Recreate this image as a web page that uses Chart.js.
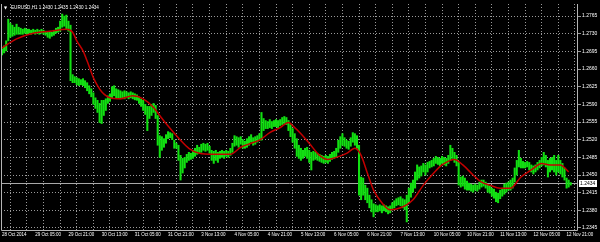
<!DOCTYPE html>
<html>
<head>
<meta charset="utf-8">
<script src="https://cdn.jsdelivr.net/npm/chart.js@4.4.0/dist/chart.umd.min.js"></script>
<style>
  html, body { margin: 0; padding: 0; background: #000; }
</style>
</head>
<body>
<canvas id="myChart" width="600" height="242"></canvas>
<script>
// chart header: symbol and last bar open/high/low/close
const symbolName = 'EURUSD,H1';
const lastBar = [1.2430, 1.2435, 1.2430, 1.2434];

// one label every 16 hourly bars
const xLabels = ['28 Oct 2014', '29 Oct 05:00', '29 Oct 21:00', '30 Oct 13:00', '31 Oct 05:00', '31 Oct 21:00',
  '3 Nov 13:00', '4 Nov 05:00', '4 Nov 21:00', '5 Nov 13:00', '6 Nov 05:00', '6 Nov 21:00',
  '7 Nov 13:00', '10 Nov 05:00', '10 Nov 21:00', '11 Nov 13:00', '12 Nov 05:00', '12 Nov 21:00'];

const yTicks = [1.2765, 1.2730, 1.2695, 1.2660, 1.2625, 1.2590, 1.2555, 1.2520, 1.2485, 1.2450, 1.2415, 1.2380, 1.2345];

// hourly bar highs and lows (bar 0 = 28 Oct 13:00)
const highs = [
  1.2700, 1.2706, 1.2716, 1.2759, 1.2751, 1.2747, 1.2743, 1.2749, 1.2743, 1.2741,
  1.2739, 1.2741, 1.2739, 1.2739, 1.2737, 1.2739, 1.2737, 1.2739, 1.2737, 1.2739,
  1.2737, 1.2735, 1.2733, 1.2735, 1.2733, 1.2737, 1.2741, 1.2743, 1.2755, 1.2769,
  1.2765, 1.2767, 1.2755, 1.2747, 1.2649, 1.2645, 1.2643, 1.2641, 1.2639, 1.2641,
  1.2637, 1.2633, 1.2627, 1.2621, 1.2613, 1.2603, 1.2598, 1.2592, 1.2598, 1.2598,
  1.2601, 1.2607, 1.2611, 1.2625, 1.2627, 1.2621, 1.2619, 1.2617, 1.2615, 1.2617,
  1.2615, 1.2613, 1.2615, 1.2613, 1.2611, 1.2609, 1.2605, 1.2601, 1.2598, 1.2590,
  1.2586, 1.2586, 1.2590, 1.2592, 1.2588, 1.2568, 1.2528, 1.2526, 1.2522, 1.2530,
  1.2536, 1.2534, 1.2532, 1.2519, 1.2513, 1.2509, 1.2489, 1.2483, 1.2485, 1.2491,
  1.2495, 1.2493, 1.2499, 1.2503, 1.2509, 1.2505, 1.2511, 1.2513, 1.2511, 1.2513,
  1.2507, 1.2499, 1.2497, 1.2499, 1.2495, 1.2497, 1.2499, 1.2497, 1.2499, 1.2497,
  1.2503, 1.2513, 1.2528, 1.2526, 1.2524, 1.2526, 1.2520, 1.2517, 1.2522, 1.2526,
  1.2530, 1.2524, 1.2526, 1.2528, 1.2532, 1.2574, 1.2562, 1.2558, 1.2556, 1.2560,
  1.2556, 1.2558, 1.2560, 1.2558, 1.2560, 1.2564, 1.2566, 1.2564, 1.2558, 1.2550,
  1.2542, 1.2532, 1.2522, 1.2509, 1.2503, 1.2499, 1.2503, 1.2505, 1.2499, 1.2495,
  1.2497, 1.2495, 1.2493, 1.2491, 1.2489, 1.2487, 1.2489, 1.2487, 1.2491, 1.2495,
  1.2497, 1.2503, 1.2519, 1.2526, 1.2532, 1.2524, 1.2519, 1.2517, 1.2524, 1.2534,
  1.2532, 1.2528, 1.2509, 1.2446, 1.2444, 1.2430, 1.2424, 1.2410, 1.2401, 1.2393,
  1.2391, 1.2389, 1.2391, 1.2389, 1.2391, 1.2389, 1.2387, 1.2389, 1.2395, 1.2399,
  1.2403, 1.2405, 1.2407, 1.2403, 1.2401, 1.2410, 1.2424, 1.2434, 1.2440, 1.2456,
  1.2470, 1.2466, 1.2468, 1.2473, 1.2470, 1.2475, 1.2477, 1.2479, 1.2483, 1.2487,
  1.2485, 1.2483, 1.2487, 1.2485, 1.2483, 1.2489, 1.2509, 1.2503, 1.2495, 1.2489,
  1.2475, 1.2446, 1.2448, 1.2444, 1.2438, 1.2434, 1.2432, 1.2430, 1.2432, 1.2430,
  1.2436, 1.2440, 1.2440, 1.2436, 1.2430, 1.2428, 1.2424, 1.2422, 1.2416, 1.2414,
  1.2420, 1.2424, 1.2432, 1.2434, 1.2436, 1.2440, 1.2444, 1.2464, 1.2479, 1.2499,
  1.2483, 1.2477, 1.2475, 1.2477, 1.2475, 1.2470, 1.2468, 1.2470, 1.2475, 1.2479,
  1.2485, 1.2495, 1.2489, 1.2479, 1.2483, 1.2485, 1.2489, 1.2479, 1.2489, 1.2479,
  1.2473, 1.2464, 1.2444, 1.2440, 1.2435
];
const lows = [
  1.2688, 1.2692, 1.2696, 1.2716, 1.2723, 1.2725, 1.2727, 1.2729, 1.2729, 1.2729,
  1.2729, 1.2731, 1.2729, 1.2731, 1.2729, 1.2731, 1.2729, 1.2731, 1.2729, 1.2731,
  1.2729, 1.2727, 1.2723, 1.2721, 1.2725, 1.2727, 1.2731, 1.2733, 1.2735, 1.2743,
  1.2745, 1.2739, 1.2735, 1.2637, 1.2633, 1.2633, 1.2629, 1.2627, 1.2629, 1.2627,
  1.2623, 1.2617, 1.2611, 1.2605, 1.2590, 1.2582, 1.2574, 1.2554, 1.2552, 1.2568,
  1.2578, 1.2592, 1.2596, 1.2603, 1.2607, 1.2603, 1.2603, 1.2601, 1.2603, 1.2601,
  1.2603, 1.2601, 1.2603, 1.2601, 1.2599, 1.2598, 1.2592, 1.2586, 1.2578, 1.2570,
  1.2538, 1.2562, 1.2568, 1.2574, 1.2562, 1.2509, 1.2485, 1.2499, 1.2505, 1.2513,
  1.2522, 1.2524, 1.2520, 1.2503, 1.2503, 1.2479, 1.2440, 1.2454, 1.2464, 1.2475,
  1.2479, 1.2481, 1.2483, 1.2487, 1.2491, 1.2493, 1.2495, 1.2499, 1.2497, 1.2499,
  1.2493, 1.2479, 1.2473, 1.2479, 1.2475, 1.2483, 1.2485, 1.2483, 1.2487, 1.2485,
  1.2489, 1.2495, 1.2507, 1.2509, 1.2505, 1.2511, 1.2503, 1.2503, 1.2505, 1.2509,
  1.2515, 1.2509, 1.2511, 1.2515, 1.2519, 1.2519, 1.2538, 1.2542, 1.2542, 1.2544,
  1.2542, 1.2546, 1.2546, 1.2544, 1.2548, 1.2550, 1.2552, 1.2550, 1.2538, 1.2526,
  1.2515, 1.2503, 1.2487, 1.2483, 1.2479, 1.2483, 1.2487, 1.2483, 1.2475, 1.2460,
  1.2479, 1.2481, 1.2479, 1.2477, 1.2475, 1.2473, 1.2475, 1.2473, 1.2477, 1.2481,
  1.2483, 1.2485, 1.2495, 1.2503, 1.2509, 1.2507, 1.2503, 1.2501, 1.2507, 1.2515,
  1.2509, 1.2503, 1.2410, 1.2401, 1.2410, 1.2401, 1.2395, 1.2385, 1.2377, 1.2367,
  1.2377, 1.2377, 1.2379, 1.2375, 1.2379, 1.2377, 1.2373, 1.2375, 1.2381, 1.2385,
  1.2389, 1.2391, 1.2389, 1.2385, 1.2381, 1.2357, 1.2397, 1.2406, 1.2416, 1.2424,
  1.2440, 1.2444, 1.2448, 1.2456, 1.2450, 1.2456, 1.2464, 1.2466, 1.2468, 1.2473,
  1.2471, 1.2468, 1.2473, 1.2470, 1.2468, 1.2473, 1.2479, 1.2483, 1.2475, 1.2468,
  1.2430, 1.2426, 1.2428, 1.2422, 1.2420, 1.2420, 1.2418, 1.2416, 1.2420, 1.2418,
  1.2422, 1.2426, 1.2428, 1.2424, 1.2416, 1.2414, 1.2408, 1.2404, 1.2397, 1.2395,
  1.2403, 1.2408, 1.2412, 1.2416, 1.2420, 1.2420, 1.2424, 1.2436, 1.2450, 1.2466,
  1.2464, 1.2464, 1.2464, 1.2466, 1.2460, 1.2456, 1.2452, 1.2456, 1.2460, 1.2464,
  1.2468, 1.2470, 1.2466, 1.2446, 1.2456, 1.2460, 1.2456, 1.2450, 1.2456, 1.2452,
  1.2446, 1.2440, 1.2424, 1.2426, 1.2430
];

// moving average (red), read at these bar numbers
const maBars = [0, 7, 15, 23, 31, 34, 36, 39, 41, 44, 46, 48, 52, 57, 63, 68, 73, 76, 79, 86,
  90, 95, 102, 110, 115, 120, 124, 129, 134, 138, 141, 144, 148, 153, 157, 161, 166, 170, 173, 176,
  179, 183, 187, 192, 198, 203, 208, 212, 218, 222, 227, 231, 235, 240, 245, 250, 255, 260, 264, 269, 273];
const maValues = [1.2702, 1.2720, 1.2731, 1.2735, 1.2739, 1.2733, 1.2716, 1.2696, 1.2676, 1.2643,
  1.2627, 1.2615, 1.2603, 1.2601, 1.2607, 1.2601, 1.2584, 1.2568, 1.2552, 1.2519,
  1.2503, 1.2493, 1.2491, 1.2491, 1.2505, 1.2513, 1.2519, 1.2534, 1.2544, 1.2554,
  1.2544, 1.2532, 1.2513, 1.2489, 1.2481, 1.2485, 1.2493, 1.2503, 1.2489, 1.2454,
  1.2420, 1.2395, 1.2381, 1.2385, 1.2401, 1.2430, 1.2454, 1.2470, 1.2481, 1.2470,
  1.2450, 1.2436, 1.2430, 1.2424, 1.2424, 1.2446, 1.2460, 1.2473, 1.2470, 1.2470, 1.2456];

const gridColor = '#9a9a9a';
const textColor = '#ffffff';

Chart.defaults.font.family = "'Liberation Sans', Arial, 'DejaVu Sans', sans-serif";

// background, bid line, frame, header and price tag
const mt4Plugin = {
    id: 'mt4',
    beforeDraw: function(chart) {
        const c = chart.ctx;
        c.save();
        c.fillStyle = '#000';
        c.fillRect(0, 0, chart.width, chart.height);
        c.restore();
    },
    beforeDatasetsDraw: function(chart) {
        const c = chart.ctx;
        const a = chart.chartArea;
        const y = Math.round(chart.scales.y.getPixelForValue(lastBar[3])) + 0.5;
        c.save();
        c.strokeStyle = '#a8a8a8';
        c.lineWidth = 1;
        c.beginPath();
        c.moveTo(a.left, y);
        c.lineTo(a.right, y);
        c.stroke();
        c.restore();
    },
    afterDraw: function(chart) {
        const c = chart.ctx;
        const a = chart.chartArea;
        c.save();
        // frame: left, bottom, right (no top line)
        c.strokeStyle = '#b4b4b4';
        c.lineWidth = 1;
        c.beginPath();
        c.moveTo(a.left + 0.5, a.top);
        c.lineTo(a.left + 0.5, a.bottom + 0.5);
        c.lineTo(a.right - 0.5, a.bottom + 0.5);
        c.lineTo(a.right - 0.5, a.top);
        c.stroke();

        c.fillStyle = textColor;
        c.textBaseline = 'middle';
        c.font = "4px 'DejaVu Sans', sans-serif";
        c.fillText('\u25BC', a.left + 3, a.top + 4);
        c.font = "4.6px 'Liberation Sans', Arial, sans-serif";
        c.fillText(symbolName + ' ' + lastBar.map(v => v.toFixed(4)).join(' '), a.left + 10, a.top + 4);

        const y = Math.round(chart.scales.y.getPixelForValue(lastBar[3]));
        c.fillStyle = '#ffffff';
        c.fillRect(a.right + 1, y - 3, 18, 7);
        c.fillStyle = '#000';
        c.font = "5px 'Liberation Sans', Arial, sans-serif";
        c.fillText(lastBar[3].toFixed(4), a.right + 2, y + 0.5);
        c.restore();
    }
};

function initChart() {
    const ctx = document.getElementById('myChart').getContext('2d');
    const barData = highs.map(function(h, i) { return { x: i, y: [lows[i], h] }; });
    const maData = maBars.map(function(b, i) { return { x: b, y: maValues[i] }; });

    new Chart(ctx, {
        type: 'bar',
        data: {
            datasets: [{
                type: 'line',
                label: 'MA',
                data: maData,
                borderColor: '#c40000',
                borderWidth: 1.5,
                pointRadius: 0,
                cubicInterpolationMode: 'monotone',
                order: 0
            }, {
                type: 'bar',
                label: symbolName,
                data: barData,
                backgroundColor: '#12e012',
                barThickness: 1.4,
                order: 1
            }]
        },
        options: {
            responsive: false,
            animation: false,
            devicePixelRatio: 1,
            layout: { padding: { left: 1, top: 3, right: 0, bottom: 0 } },
            plugins: {
                legend: { display: false },
                tooltip: { enabled: false }
            },
            scales: {
                x: {
                    type: 'linear',
                    min: -0.5,
                    max: 277.5,
                    offset: false,
                    grid: { color: gridColor, drawTicks: false },
                    border: { display: false, dash: [1, 2] },
                    ticks: {
                        color: textColor,
                        font: { size: 4.5 },
                        align: 'start',
                        padding: 2,
                        autoSkip: false,
                        maxRotation: 0,
                        minRotation: 0,
                        callback: function(v) { return v % 16 === 0 ? xLabels[v / 16] : ''; }
                    },
                    afterBuildTicks: function(scale) {
                        const t = [];
                        for (let i = 0; i <= (xLabels.length - 1) * 16; i += 8) t.push({ value: i });
                        scale.ticks = t;
                    },
                    afterFit: function(scale) { scale.height = 12; }
                },
                y: {
                    position: 'right',
                    min: 1.2341,
                    max: 1.2789,
                    grid: { color: gridColor, drawTicks: true, tickLength: 3 },
                    border: { display: false, dash: [1, 2] },
                    ticks: {
                        color: textColor,
                        font: { size: 5 },
                        padding: 1,
                        autoSkip: false,
                        callback: function(v) { return v.toFixed(4); }
                    },
                    afterBuildTicks: function(scale) {
                        scale.ticks = yTicks.map(function(v) { return { value: v }; });
                    },
                    afterFit: function(scale) { scale.width = 22; }
                }
            }
        },
        plugins: [mt4Plugin]
    });
}

document.addEventListener('DOMContentLoaded', initChart);
</script>
</body>
</html>
